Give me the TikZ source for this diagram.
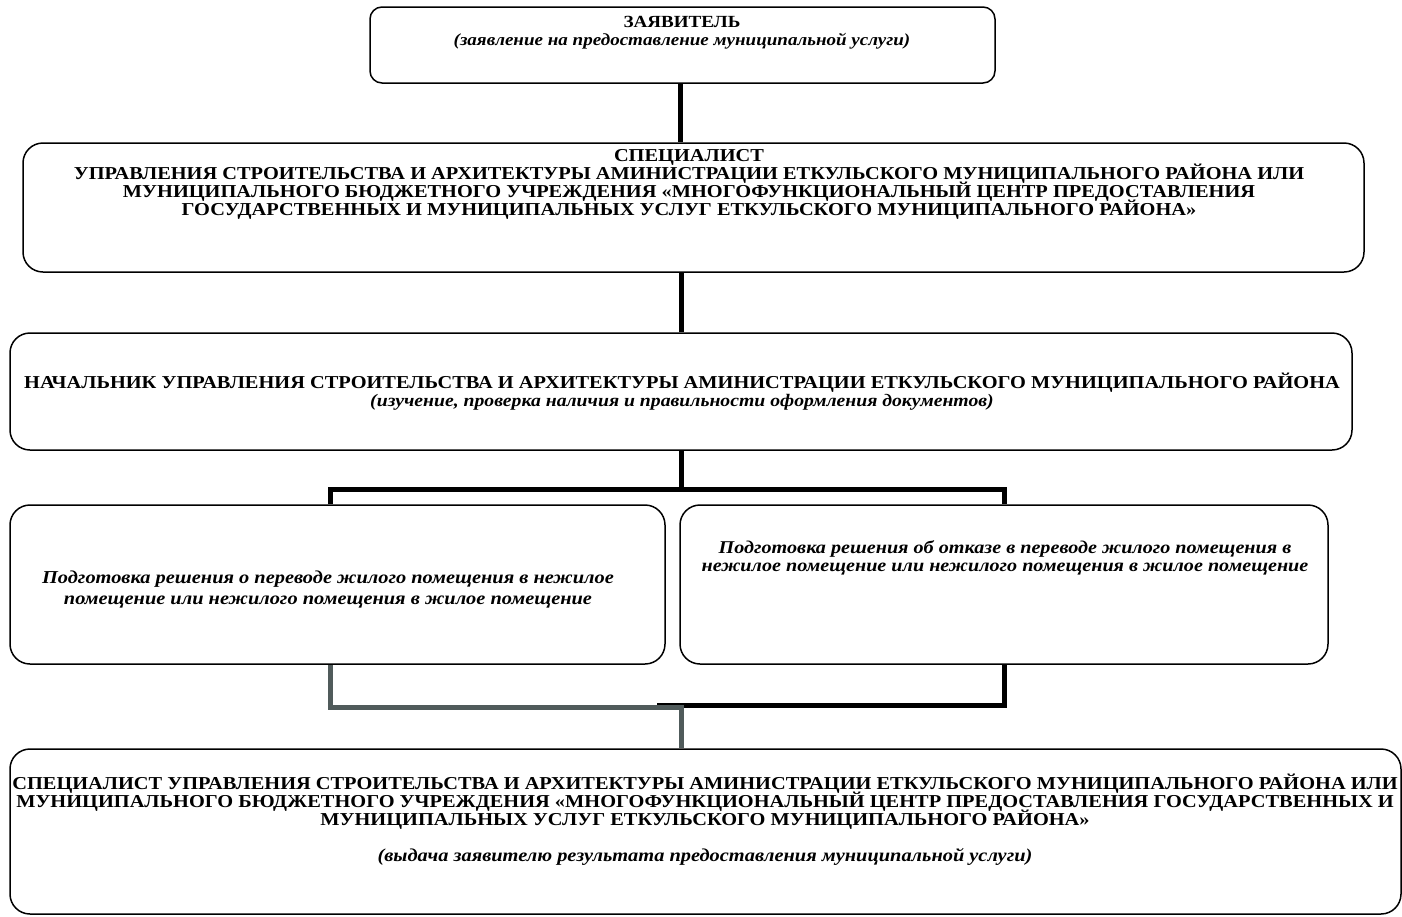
\documentclass[tikz,border=0pt]{standalone}
\usepackage{fontspec}
\setmainfont{Liberation Serif}[FakeStretch=1.12]
\usetikzlibrary{calc}

\tikzset{
  box/.style={draw,line width=1.5pt,rounded corners=20pt,inner sep=0pt},
  txt/.style={align=center,font=\fontsize{18.2}{18}\selectfont\bfseries,inner sep=0pt},
  link/.style={line width=5pt},
  glink/.style={line width=5pt,draw=linkgrey}
}
\definecolor{linkgrey}{RGB}{80,91,91}
\lineskiplimit=-100pt
\lineskip=0pt

\begin{document}
\begin{tikzpicture}[x=1pt,y=-1pt,line cap=butt,line join=miter]
\useasboundingbox (0,0) rectangle (1402,916);
% boxes
\node[box,rounded corners=12pt,minimum width=625pt,minimum height=76pt] (zayav) at (682.5,45) {};
\node[box,minimum width=1341pt,minimum height=129pt] (spec) at (693.5,207.5) {};
\node[box,minimum width=1342pt,minimum height=117pt] (nach) at (681,391.5) {};
\node[box,minimum width=655pt,minimum height=159pt] (podg) at (337.5,584.5) {};
\node[box,minimum width=648pt,minimum height=159pt] (otkaz) at (1004,584.5) {};
\node[box,minimum width=1391pt,minimum height=165pt] (vydacha) at (705.5,831.5) {};
% texts
\node[txt,font=\fontsize{17}{18}\selectfont\bfseries] (zayavT) at (682,33) {ЗАЯВИТЕЛЬ\\
  \itshape (заявление на предоставление муниципальной услуги)};
\node[txt] (specT) at (689,184) {СПЕЦИАЛИСТ\\
  УПРАВЛЕНИЯ СТРОИТЕЛЬСТВА И АРХИТЕКТУРЫ АМИНИСТРАЦИИ ЕТКУЛЬСКОГО МУНИЦИПАЛЬНОГО РАЙОНА ИЛИ\\
  МУНИЦИПАЛЬНОГО БЮДЖЕТНОГО УЧРЕЖДЕНИЯ «МНОГОФУНКЦИОНАЛЬНЫЙ ЦЕНТР ПРЕДОСТАВЛЕНИЯ\\
  ГОСУДАРСТВЕННЫХ И МУНИЦИПАЛЬНЫХ УСЛУГ ЕТКУЛЬСКОГО МУНИЦИПАЛЬНОГО РАЙОНА»};
\node[txt] (nachT) at (682,392) {НАЧАЛЬНИК УПРАВЛЕНИЯ СТРОИТЕЛЬСТВА И АРХИТЕКТУРЫ АМИНИСТРАЦИИ ЕТКУЛЬСКОГО МУНИЦИПАЛЬНОГО РАЙОНА\\
  \fontsize{17.6}{18}\selectfont\itshape (изучение, проверка наличия и правильности оформления документов)};
\node[txt,font=\fontsize{18.2}{21}\selectfont\bfseries\itshape] (podgT) at (328,589) {Подготовка решения о переводе жилого помещения в нежилое\\
  помещение или нежилого помещения в жилое помещение};
\node[txt,font=\fontsize{18}{18}\selectfont\bfseries\itshape] (otkazT) at (1005,558) {Подготовка решения об отказе в переводе жилого помещения в\\
  нежилое помещение или нежилого помещения в жилое помещение};
\node[txt] (vydachaT) at (705,820) {СПЕЦИАЛИСТ УПРАВЛЕНИЯ СТРОИТЕЛЬСТВА И АРХИТЕКТУРЫ АМИНИСТРАЦИИ ЕТКУЛЬСКОГО МУНИЦИПАЛЬНОГО РАЙОНА ИЛИ\\
  МУНИЦИПАЛЬНОГО БЮДЖЕТНОГО УЧРЕЖДЕНИЯ «МНОГОФУНКЦИОНАЛЬНЫЙ ЦЕНТР ПРЕДОСТАВЛЕНИЯ ГОСУДАРСТВЕННЫХ И\\
  МУНИЦИПАЛЬНЫХ УСЛУГ ЕТКУЛЬСКОГО МУНИЦИПАЛЬНОГО РАЙОНА»\\[18pt]
  \itshape (выдача заявителю результата предоставления муниципальной услуги)};
% connectors
\coordinate (verh) at (680,83);
\coordinate (razv) at (681,489);
\coordinate (sbor) at (681,707);
\draw[link] (verh) -- (verh |- spec.north);
\draw[link] (nach.north) -- (nach.north |- spec.south);
\draw[link] (nach.south) -- (razv);
\draw[link] ($(podg.north)+(-7.5,0)$) |- (razv) -| (otkaz.north);
\draw[link] (otkaz.south) |- (657,705);
\draw[glink] ($(podg.south)+(-7.5,0)$) |- (sbor) -- (vydacha.north -| sbor);
\end{tikzpicture}
\end{document}
